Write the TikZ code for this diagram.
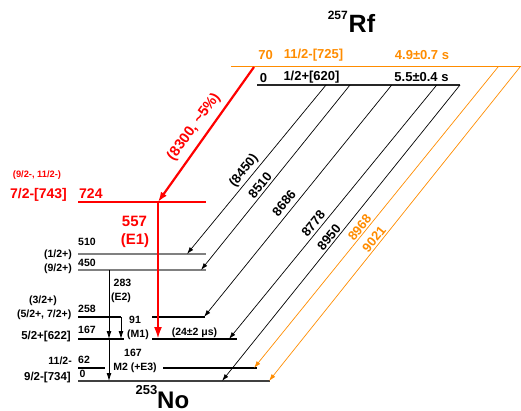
\documentclass[tikz,border=0pt]{standalone}
\usepackage{fontspec}
\setmainfont{Liberation Sans}
\usetikzlibrary{arrows.meta}
\definecolor{orng}{RGB}{255,140,0}
\begin{document}
\begin{tikzpicture}[x=1pt,y=-1pt,
  every node/.style={inner sep=0pt},
  fs/.style={font=\fontsize{#1}{#1}\selectfont\bfseries},
  glev/.style={draw=gray, line width=1.6pt},
  dlev/.style={draw=black!75, line width=1.6pt},
  blev/.style={draw=black, line width=1.1pt},
  rlev/.style={draw=red, line width=2.4pt},
  olev/.style={draw=orng, line width=1pt},
  alph/.style={draw=black, line width=0.7pt, -{Latex[length=7pt,width=4.5pt]}},
  oalph/.style={draw=orng, line width=0.7pt, -{Latex[length=7pt,width=4.5pt]}},
  gam/.style={draw=black, line width=0.9pt, -{Latex[length=8pt,width=5pt]}},
  ralph/.style={draw=red, line width=2.2pt, -{Latex[length=10pt,width=7pt]}},
  rgam/.style={draw=red, line width=2.2pt, -{Latex[length=12pt,width=8pt]}},
  alab/.style={fs=13, rotate=51},
]
\useasboundingbox (0,0) rectangle (521,411);

% ---------- level coordinates ----------
\coordinate (o70a) at (231,67);  \coordinate (o70b) at (521,67);
\coordinate (g0a) at (257,85);   \coordinate (g0b) at (460,85);
\coordinate (l724a) at (78,202); \coordinate (l724b) at (206,202);
\coordinate (l510a) at (78,254); \coordinate (l510b) at (206,254);
\coordinate (l450a) at (78,270); \coordinate (l450b) at (206,270);
\coordinate (l258a) at (78,317); \coordinate (l258c) at (121,317);
\coordinate (l258d) at (152,317); \coordinate (l258b) at (205,317);
\coordinate (l167a) at (78,339); \coordinate (l167c) at (124,339);
\coordinate (l167d) at (152,339); \coordinate (l167b) at (237,339);
\coordinate (l62a) at (78,368);  \coordinate (l62c) at (105,368);
\coordinate (l62d) at (163,368); \coordinate (l62b) at (257,368);
\coordinate (l0a) at (78,381);   \coordinate (l0b) at (270,381);

% ---------- levels ----------
\draw[olev] (o70a) -- (o70b);
\draw[draw=black!85, line width=1.5pt] (g0a) -- (g0b);
\draw[rlev] (l724a) -- (l724b);
\draw[glev] (l510a) -- (l510b);
\draw[glev] (l450a) -- (l450b);
\draw[blev] (l258a) -- (l258c);
\draw[blev] (l258d) -- (l258b);
\draw[blev] (l167a) -- (l167c);
\draw[blev] (l167d) -- (l167b);
\draw[blev] (l62a) -- (l62c);
\draw[blev] (l62d) -- (l62b);
\draw[dlev] (l0a) -- (l0b);

% ---------- alpha transitions ----------
\coordinate (a1s) at (326,85);   \coordinate (a1e) at (187,254);
\coordinate (a2s) at (350,85);   \coordinate (a2e) at (201,270);
\coordinate (a3s) at (391.7,85); \coordinate (a3e) at (204,317);
\coordinate (a4s) at (436.7,85); \coordinate (a4e) at (229,339);
\coordinate (a5s) at (460,85);   \coordinate (a5e) at (222,381);
\coordinate (a6s) at (498,67);   \coordinate (a6e) at (254,368);
\coordinate (a7s) at (520,67);   \coordinate (a7e) at (269,381);
\draw[alph] (a1s) -- (a1e);
\draw[alph] (a2s) -- (a2e);
\draw[alph] (a3s) -- (a3e);
\draw[alph] (a4s) -- (a4e);
\draw[alph] (a5s) -- (a5e);
\draw[oalph] (a6s) -- (a6e);
\draw[oalph] (a7s) -- (a7e);

\node[alab] (t8450) at (244,170.7) {(8450)};
\node[alab] (t8510) at (260,185.3) {8510};
\node[alab] (t8686) at (284,203) {8686};
\node[alab] (t8778) at (313.3,223.7) {8778};
\node[alab] (t8950) at (329,237.3) {8950};
\node[alab, text=orng] (t8968) at (359.7,227.7) {8968};
\node[alab, text=orng] (t9021) at (374,239) {9021};

% red alpha
\coordinate (ra) at (254,67);
\coordinate (r724) at (158,202);
\coordinate (r167) at (158,339);
\draw[ralph] (ra) -- (r724);
\node[fs=14.5, text=red, rotate=54] (t8300) at (194,127) {(8300, \textasciitilde5\%)};

% ---------- gamma transitions ----------
\coordinate (g450) at (109,270);
\coordinate (g167x) at (109,339);
\coordinate (g0x) at (109,381);
\coordinate (g91e) at (121,339);
\draw[gam] (g450) -- (g167x);
\draw[gam] (g167x) -- (g0x);
\draw[gam] (l258c) -- (g91e);
\draw[rgam] (r724) -- (r167);

\node[fs=10.5] (t283) at (122.5,283) {283};
\node[fs=10.5] (tE2) at (121,297.5) {(E2)};
\node[fs=10.5] (t91) at (135,320) {91};
\node[fs=10.5] (tM1) at (138,334.5) {(M1)};
\node[fs=10.5] (t167g) at (133,353) {167};
\node[fs=10.5] (tM2) at (135,367.5) {M2 (+E3)};
\node[fs=10.5] (tiso) at (194.5,332.5) {(24±2 μs)};
\node[fs=15, text=red] (t557) at (134.5,221.5) {557};
\node[fs=15, text=red] (tE1) at (135,241) {(E1)};

% ---------- level labels, 253No ----------
\node[fs=10.5, anchor=west] (n510) at (78,242) {510};
\node[fs=10.5, anchor=west] (n450) at (78,262.5) {450};
\node[fs=10.5, anchor=west] (n258) at (78,309) {258};
\node[fs=10.5, anchor=west] (n167) at (78,329.5) {167};
\node[fs=10.5, anchor=west] (n62) at (78,360) {62};
\node[fs=10.5, anchor=west] (n0) at (79.5,373.5) {0};
\node[fs=14, text=red, anchor=west] (n724) at (79,193.5) {724};

\node[fs=10.5, anchor=east] (s12) at (72,254.5) {(1/2+)};
\node[fs=10.5, anchor=east] (s92) at (72,269) {(9/2+)};
\node[fs=10.5] (s32) at (43,301) {(3/2+)};
\node[fs=10.5, anchor=east] (s52) at (71.5,314.5) {(5/2+, 7/2+)};
\node[fs=11.5, anchor=east] (s622) at (71,336.5) {5/2+[622]};
\node[fs=10.5, anchor=east] (s112) at (72,361) {11/2-};
\node[fs=11.5, anchor=east] (s734) at (71,377.5) {9/2-[734]};
\node[fs=9.3, text=red] (s92m) at (37,175) {(9/2-, 11/2-)};
\node[fs=14, text=red] (s743) at (38.5,195) {7/2-[743]};

\node[fs=24, anchor=base west] (No) at (157,408) {No};
\node[fs=13, anchor=base east] (A253) at (157.5,394) {253};

% ---------- 257Rf labels ----------
\node[fs=25, anchor=base west] (Rf) at (348.5,33) {Rf};
\node[fs=12, anchor=base east] (A257) at (348,20) {257};
\node[fs=13, text=orng] (r70) at (265.5,55) {70};
\node[fs=13, text=orng] (r725) at (313.5,55) {11/2-[725]};
\node[fs=13, text=orng] (rt1) at (422,55) {4.9±0.7 s};
\node[fs=13] (r0) at (263.5,78) {0};
\node[fs=13] (r620) at (311.5,77) {1/2+[620]};
\node[fs=13] (rt2) at (421.5,77.5) {5.5±0.4 s};
\end{tikzpicture}
\end{document}
